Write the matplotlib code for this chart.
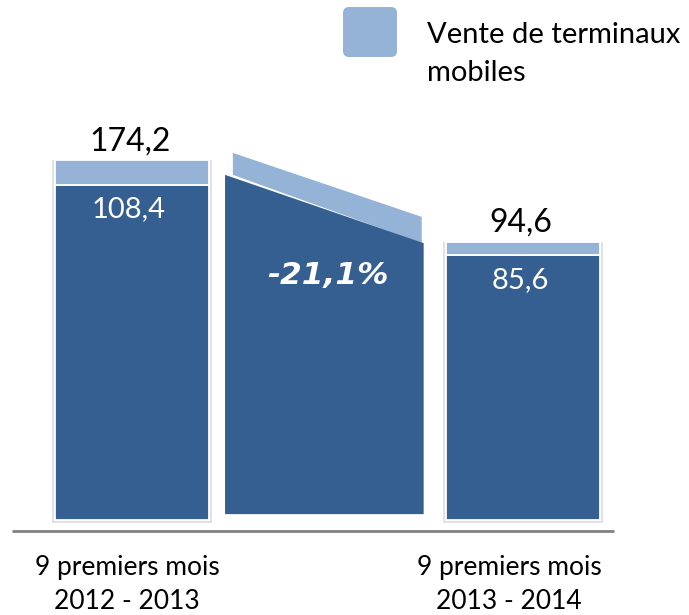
import matplotlib
matplotlib.use('Agg')
import matplotlib.pyplot as plt
from matplotlib.patches import FancyBboxPatch

# données du graphique
periods = ['9 premiers mois\n2012 - 2013', '9 premiers mois\n2013 - 2014']
totals = [174.2, 94.6]
services = [108.4, 85.6]
# la part "terminaux" est dessinée comprimée dans l'original (hauteur)
devices_drawn = [8.1, 4.4]
change_label = '-21,1%'
# flèche entre les deux barres (hauteurs)
connector_front = [111.7, 89.6]
connector_back = [118.8, 98.1]
connector_base = 1.9
legend_label = 'Vente de terminaux\nmobiles'

dark = '#365F91'
light = '#95B3D7'
font = 'Lato'

fig = plt.figure(figsize=(6.89, 6.15), dpi=100)
ax = fig.add_axes([0, 0, 1, 1])
ax.axis('off')
ax.set_xlim(-0.3376, 1.4246)
ax.set_ylim(-30.74, 168.28)

x = [0, 1]
w = 0.396

# ombres des barres
ax.bar(x, [s + d + 1.0 for s, d in zip(services, devices_drawn)], width=w + 0.012,
       bottom=-0.9, color='#e2e2e2', zorder=1)
# barres empilées
ax.bar(x, services, width=w, color=dark, edgecolor='white', linewidth=1.3, zorder=2)
ax.bar(x, devices_drawn, width=w, bottom=services, color=light,
       edgecolor='white', linewidth=1.3, zorder=2)

# flèche de variation
xl = x[0] + w / 2 + 0.04
xr = x[1] - w / 2 - 0.056
ax.fill([xl + 0.02, xr - 0.005, xr - 0.005, xl + 0.02],
        [connector_back[0], connector_back[1], connector_front[1], connector_front[0]],
        color=light, lw=0, zorder=2)
ax.fill([xl, xl, xr, xr],
        [connector_base, connector_front[0], connector_front[1], connector_base],
        color=dark, lw=0, zorder=3)
ax.text((xl + xr) / 2 + 0.01, 76.4, change_label, color='white', fontsize=22.5,
        fontweight='bold', fontstyle='italic', family='DejaVu Sans',
        ha='center', va='baseline', zorder=4)

# étiquettes de valeurs
for xi, t, s, d in zip(x, totals, services, devices_drawn):
    ax.text(xi - 0.005, s + d + 3.2, f'{t:.1f}'.replace('.', ','), fontsize=23,
            family=font, ha='center', va='baseline', color='black', zorder=4)
    ax.text(xi - 0.008, s - 10.4, f'{s:.1f}'.replace('.', ','), fontsize=21,
            family=font, ha='center', va='baseline', color='white', zorder=4)

# axe horizontal
ax.plot([-0.307, 1.233], [-3.46, -3.46], color='#808080', lw=2, solid_capstyle='butt')

# libellés des périodes
for xi, dx, lab in zip(x, [-0.013, -0.035], periods):
    for k, line in enumerate(lab.split('\n')):
        ax.text(xi + dx, -17.8 - 11.0 * k, line, fontsize=19, family=font,
                ha='center', va='baseline', color='black')

# légende
fig.patches.append(FancyBboxPatch((3.43, 5.58), 0.54, 0.50,
                                  boxstyle='round,pad=0,rounding_size=0.06',
                                  transform=fig.dpi_scale_trans, facecolor=light,
                                  edgecolor='none'))
for k, line in enumerate(legend_label.split('\n')):
    ax.text(0.754, 154.4 - 12.3 * k, line, fontsize=21, family=font,
            ha='left', va='baseline', color='black')

fig.savefig('out.png', dpi=100)
